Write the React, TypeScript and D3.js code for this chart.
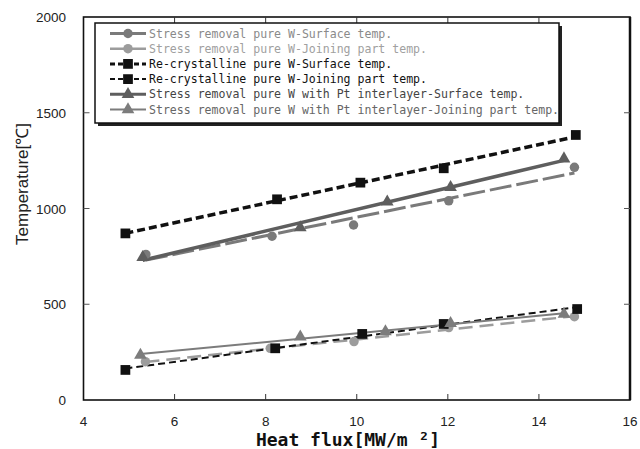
import React from "react";
import * as d3 from "d3";

// Heat flux [MW/m2] and temperature [°C]
const stressSurfX = [5.37, 8.14, 9.93, 12.02, 14.78];
const stressSurfT = [760, 855, 914, 1040, 1215];
const stressJoinX = [5.36, 8.1, 9.94, 12.02, 14.78];
const stressJoinT = [200, 270, 305, 378, 435];
const recrySurfX = [4.92, 8.25, 10.08, 11.91, 14.81];
const recrySurfT = [870, 1048, 1135, 1210, 1384];
const recryJoinX = [4.92, 8.21, 10.12, 11.91, 14.84];
const recryJoinT = [157, 270, 345, 397, 475];
const ptSurfX = [5.3, 8.76, 10.67, 12.06, 14.55];
const ptSurfT = [745, 900, 1035, 1110, 1260];
const ptJoinX = [5.25, 8.76, 10.63, 12.06, 14.55];
const ptJoinT = [235, 330, 357, 400, 449];

const xTicks = [4, 6, 8, 10, 12, 14, 16];
const yTicks = [0, 500, 1000, 1500, 2000];

const labels = [
  "Stress removal pure W-Surface temp.",
  "Stress removal pure W-Joining part temp.",
  "Re-crystalline pure W-Surface temp.",
  "Re-crystalline pure W-Joining part temp.",
  "Stress removal pure W with Pt interlayer-Surface temp.",
  "Stress removal pure W with Pt interlayer-Joining part temp.",
];

const styles = [
  { xs: stressSurfX, ys: stressSurfT, color: "#7a7a7a", text: "#8a8a8a", marker: "circle", width: 3, dash: "22,5" },
  { xs: stressJoinX, ys: stressJoinT, color: "#9c9c9c", text: "#a0a0a0", marker: "circle", width: 2.5, dash: "14,7" },
  { xs: recrySurfX, ys: recrySurfT, color: "#111", text: "#111", marker: "square", width: 3.5, dash: "8,4" },
  { xs: recryJoinX, ys: recryJoinT, color: "#111", text: "#111", marker: "square", width: 2, dash: "7,4" },
  { xs: ptSurfX, ys: ptSurfT, color: "#5e5e5e", text: "#444", marker: "triangle", width: 3.5, dash: "none" },
  { xs: ptJoinX, ys: ptJoinT, color: "#7c7c7c", text: "#666", marker: "triangle", width: 2, dash: "none" },
];

// least squares trend line, like the spreadsheet trendline in the original
function fit(xs: number[], ys: number[]) {
  const mx = d3.mean(xs)!;
  const my = d3.mean(ys)!;
  const sxy = d3.sum(xs, (x, i) => (x - mx) * (ys[i] - my));
  const sxx = d3.sum(xs, (x) => (x - mx) ** 2);
  const b = sxy / sxx;
  return (x: number) => my + b * (x - mx);
}

const Marker = ({ kind, cx, cy, color }: { kind: string; cx: number; cy: number; color: string }) => {
  const type = kind === "circle" ? d3.symbolCircle : kind === "square" ? d3.symbolSquare : d3.symbolTriangle;
  const size = kind === "circle" ? 70 : kind === "square" ? 95 : 70;
  const path = d3.symbol().type(type).size(size)()!;
  return <path d={path} transform={`translate(${cx},${cy})`} fill={color} />;
};

export default function App() {
  const left = 83.5;
  const right = 630;
  const top = 17;
  const bottom = 400;
  const x = d3.scaleLinear().domain([4, 16]).range([left, right]);
  const y = d3.scaleLinear().domain([0, 2000]).range([bottom, top]);
  const sans = "'Liberation Sans', Arial, sans-serif";
  const mono = "'DejaVu Sans Mono', monospace";

  return (
    <svg width={640} height={449} style={{ position: "absolute", left: 0, top: 0, background: "#fff" }}>
      {/* trend lines */}
      {styles.map((s, i) => {
        const f = fit(s.xs, s.ys);
        const x0 = d3.min(s.xs)!;
        const x1 = d3.max(s.xs)!;
        return (
          <line key={"l" + i} x1={x(x0)} y1={y(f(x0))} x2={x(x1)} y2={y(f(x1))}
            stroke={s.color} strokeWidth={s.width} strokeDasharray={s.dash} />
        );
      })}
      {/* markers */}
      {styles.map((s, i) => (
        <g key={"m" + i}>
          {s.xs.map((v, j) => (
            <Marker key={j} kind={s.marker} cx={x(v)} cy={y(s.ys[j])} color={s.color} />
          ))}
        </g>
      ))}

      {/* frame and ticks */}
      <rect x={left} y={top} width={right - left} height={bottom - top} fill="none" stroke="#111" strokeWidth={1.6} />
      <line x1={right} y1={top} x2={right} y2={bottom} stroke="#111" strokeWidth={2.5} />
      {xTicks.slice(1, -1).map((t) => (
        <g key={"xt" + t}>
          <line x1={x(t)} x2={x(t)} y1={bottom} y2={bottom - 6} stroke="#333" />
          <line x1={x(t)} x2={x(t)} y1={top} y2={top + 6} stroke="#333" />
        </g>
      ))}
      {yTicks.slice(1, -1).map((t) => (
        <g key={"yt" + t}>
          <line x1={left} x2={left + 6} y1={y(t)} y2={y(t)} stroke="#555" />
          <line x1={right} x2={right - 6} y1={y(t)} y2={y(t)} stroke="#555" />
        </g>
      ))}
      {xTicks.map((t) => (
        <text key={"xl" + t} x={x(t)} y={426} textAnchor="middle" fontFamily={sans} fontSize={13.5} fill="#222">
          {t}
        </text>
      ))}
      {yTicks.map((t) => (
        <text key={"yl" + t} x={66} y={y(t) + 5} textAnchor="end" fontFamily={sans} fontSize={13.5} fill="#222">
          {t}
        </text>
      ))}

      <text x={348} y={446} textAnchor="middle" fontFamily={mono} fontWeight="bold" fontSize={18} fill="#111">
        {"Heat flux[MW/m ²]"}
      </text>
      <text transform="translate(28,184) rotate(-90)" textAnchor="middle" fontFamily={sans} fontSize={17} fill="#222">
        {"Temperature[℃]"}
      </text>

      {/* legend */}
      <rect x={98} y={26} width={464} height={100} fill="#222" />
      <rect x={95} y={23} width={464} height={100} fill="#fff" stroke="#111" strokeWidth={1.5} />
      {styles.map((s, i) => {
        const cy = 33.5 + i * 15.2;
        return (
          <g key={"lg" + i}>
            <line x1={110} x2={146} y1={cy} y2={cy} stroke={s.color} strokeWidth={Math.min(s.width, 3)}
              strokeDasharray={s.dash === "none" ? "none" : i < 2 ? "none" : "5,3"} />
            <Marker kind={s.marker} cx={128} cy={cy} color={s.color} />
            <text x={149} y={cy + 4} fontFamily={mono} fontSize={12} fill={s.text}
              textLength={labels[i].length * 6.95} lengthAdjust="spacingAndGlyphs">
              {labels[i]}
            </text>
          </g>
        );
      })}
    </svg>
  );
}
